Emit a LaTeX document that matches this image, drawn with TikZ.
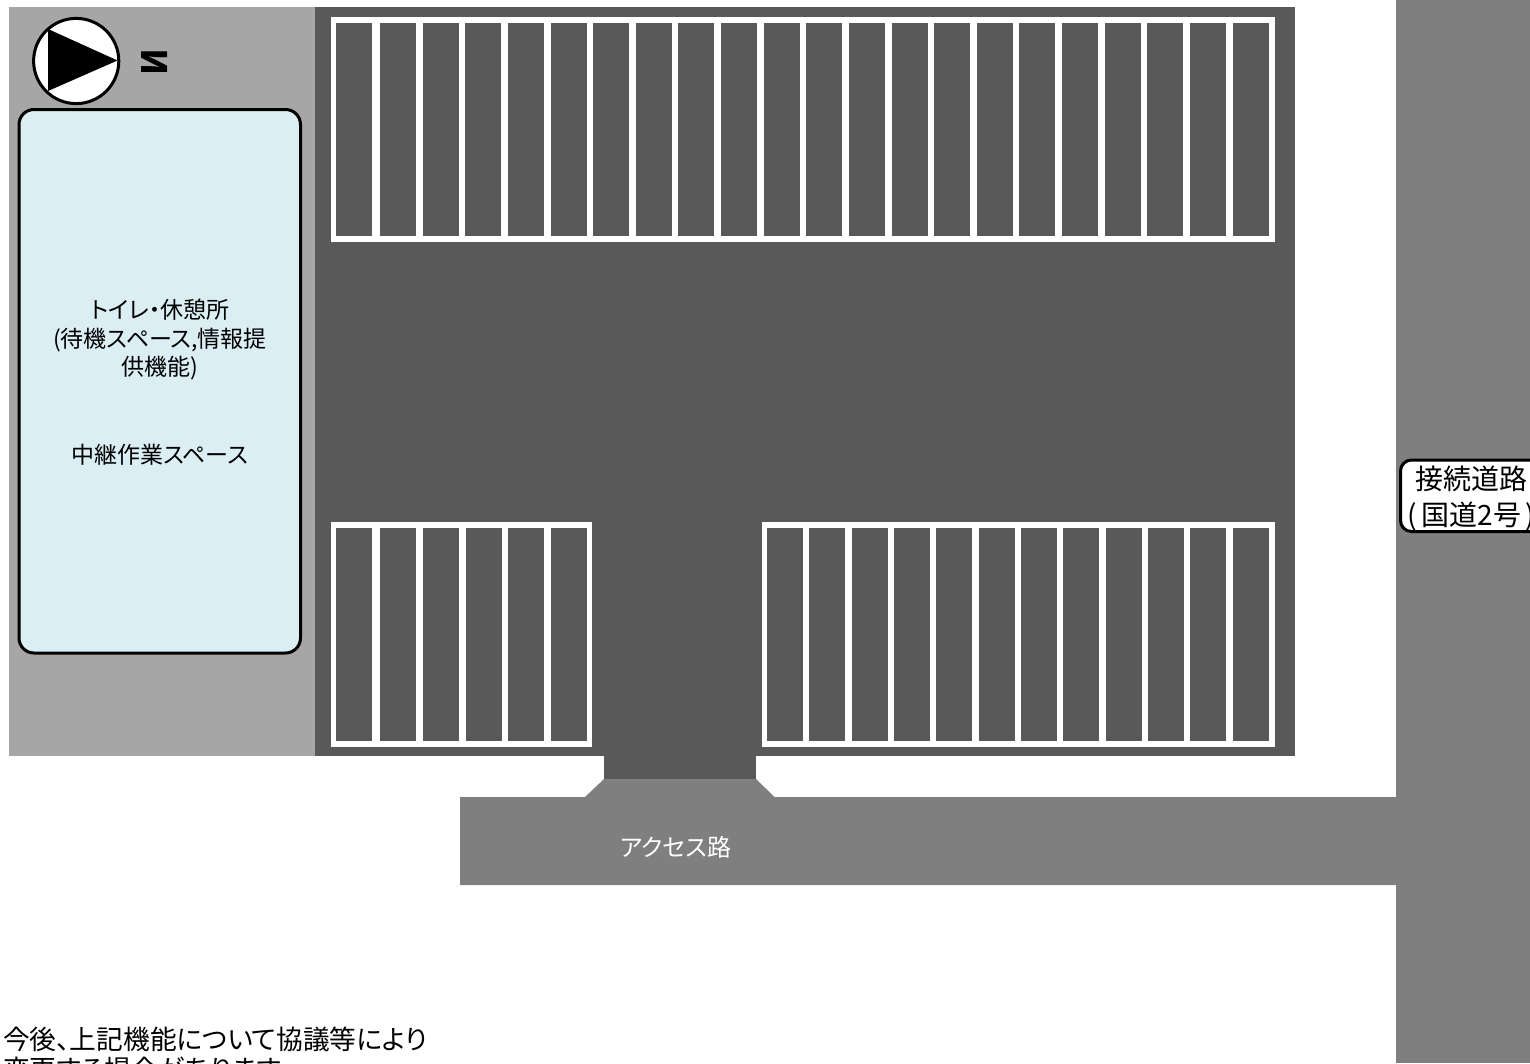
\documentclass[tikz,border=0pt]{standalone}
\usepackage{fontspec}
\setmainfont[RawFeature=+palt]{Noto Sans CJK JP}
\usepackage{graphicx}
\usepackage{xcolor}
\definecolor{lot}{HTML}{595959}
\definecolor{yard}{HTML}{A6A6A6}
\definecolor{road}{HTML}{7F7F7F}
\definecolor{hall}{HTML}{DAEEF3}
\tikzset{
  stall/.style={fill=lot},
  frame/.style={fill=white},
  smalltext/.style={font=\fontsize{23}{28.5}\selectfont, align=center, inner sep=0pt},
  bigtext/.style={font=\fontsize{28}{36}\selectfont, align=center, inner sep=0pt}
}

\begin{document}
\begin{tikzpicture}[x=1pt,y=-1pt]
\useasboundingbox (0,0) rectangle (1530,1063);

\fill[yard] (9,7) rectangle (315,756);
\fill[lot] (315,7) rectangle (1295,756);
\fill[lot] (604,756) rectangle (756,779);

\fill[road] (1396,0) rectangle (1530,1063);
\fill[road] (460,797) -- (585,797) -- (604,779) -- (756,779) -- (774.5,797) -- (1396,797) -- (1396,885) -- (460,885) -- cycle;

\fill[frame] (330.5,16.5) rectangle (1274.7,242);
\fill[frame] (330.5,522.3) rectangle (592.3,747.3);
\fill[frame] (761.7,522.3) rectangle (1274.7,747.3);

\fill[stall] (336.3,22.5) rectangle +(36,213.5);
\foreach \i in {0,...,20}
  \fill[stall] ({380+42.63*\i},22.5) rectangle +(36,213.5);

\foreach \x in {336.3,380,423,465.7,508,550.7}
  \fill[stall] (\x,528) rectangle +(36,213.3);

\fill[stall] (767.3,528) rectangle +(36,213.3);
\foreach \i in {0,...,10}
  \fill[stall] ({809.3+42.34*\i},528) rectangle +(36,213.3);

\filldraw[fill=white, draw=black, line width=3pt] (76.2,61) circle (42.6);
\fill[black] (48,29) -- (117.5,60.5) -- (48,91) -- cycle;
\node[font=\fontsize{35}{35}\selectfont\bfseries, inner sep=0pt, rotate=-90] (north) at (155,62) {\scalebox{-1}[1]{N}};

\filldraw[fill=hall, draw=black, line width=3pt, rounded corners=15pt] (19,109.5) rectangle (300.5,653);

\node[smalltext] (toilet) at (160,339.5) {トイレ・休憩所\\(待機スペース,情報提\\供機能)};
\node[smalltext] (relay) at (160,455) {中継作業スペース};
\node[smalltext, font=\fontsize{24}{28}\selectfont, text=white] (access) at (676,847) {アクセス路};

\filldraw[fill=white, draw=black, line width=3pt, rounded corners=11pt] (1400.5,460) rectangle (1543,531.5);
\node[bigtext] (junction) at (1471.5,498.5) {接続道路\\(\,国道2号\,)};

\node[font=\fontsize{26.7}{30}\selectfont, align=left, inner sep=0pt, anchor=north west] (note) at (3,1027) {今後、上記機能について協議等により\\変更する場合があります};
\end{tikzpicture}
\end{document}
